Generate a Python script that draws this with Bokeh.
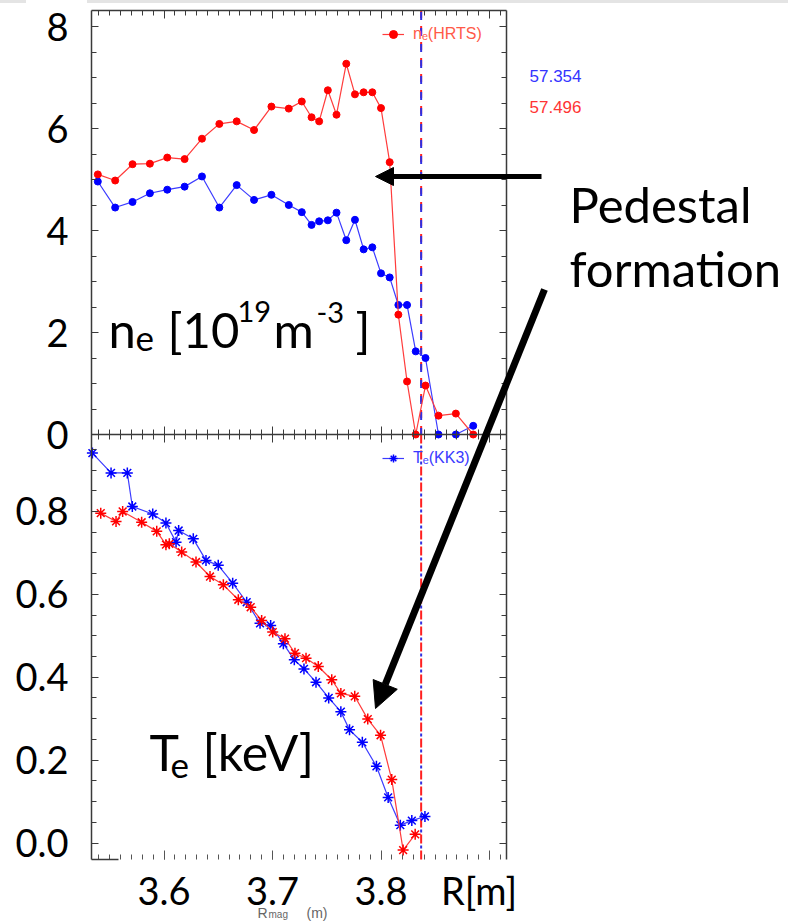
import numpy as np
from bokeh.plotting import figure
from bokeh.models import (Range1d, LinearAxis, FixedTicker, Label,
                          Arrow, NormalHead, Legend, LegendItem, Div, ColumnDataSource,
                          CustomJSTickFormatter)
from bokeh.layouts import column, row
from bokeh.embed import file_html
from bokeh.resources import INLINE

# ---------------- data ----------------
# HRTS density profiles, R [m] and n_e [1e19 m^-3]
ne_r = [3.539, 3.555, 3.571, 3.587, 3.603, 3.619, 3.635, 3.651, 3.667, 3.683,
        3.699, 3.715, 3.727, 3.736, 3.743, 3.751, 3.759, 3.768, 3.776, 3.784,
        3.792, 3.800, 3.808, 3.816, 3.824, 3.832, 3.841, 3.853, 3.869, 3.885]
ne_red = [5.10, 4.98, 5.30, 5.31, 5.43, 5.40, 5.80, 6.09, 6.14, 5.97,
          6.43, 6.39, 6.53, 6.22, 6.14, 6.75, 6.27, 7.27, 6.67, 6.71,
          6.71, 6.40, 5.34, 2.35, 1.04, 0.00, 0.96, 0.37, 0.41, 0.00]
ne_blue = [4.96, 4.45, 4.56, 4.73, 4.80, 4.86, 5.06, 4.45, 4.89, 4.60,
           4.70, 4.50, 4.36, 4.11, 4.18, 4.20, 4.35, 3.81, 4.21, 3.63,
           3.67, 3.16, 3.08, 2.54, 2.54, 1.63, 1.50, 0.00, 0.00, 0.17]

# KK3 temperature profiles, R [m] and T_e [keV]
te_blue_r = [3.5340, 3.5512, 3.5662, 3.5708, 3.5896, 3.6018, 3.6111, 3.6135, 3.6270, 3.6387,
             3.6500, 3.6633, 3.6762, 3.6885, 3.6983, 3.7100, 3.7201, 3.7290, 3.7401, 3.7518,
             3.7630, 3.7710, 3.7828, 3.7958, 3.8066, 3.8178, 3.8284, 3.8405]
te_blue = [0.941, 0.893, 0.893, 0.812, 0.794, 0.772, 0.726, 0.754, 0.734, 0.682,
           0.670, 0.627, 0.581, 0.530, 0.525, 0.481, 0.442, 0.420, 0.388, 0.350,
           0.317, 0.273, 0.243, 0.185, 0.110, 0.043, 0.054, 0.064]
te_red_r = [3.5417, 3.5558, 3.5619, 3.5794, 3.5933, 3.6018, 3.6049, 3.6163, 3.6295, 3.6424,
            3.6547, 3.6685, 3.6799, 3.6900, 3.7002, 3.7115, 3.7207, 3.7309, 3.7422, 3.7546,
            3.7630, 3.7758, 3.7878, 3.7996, 3.8099, 3.8204, 3.8315]
te_red = [0.796, 0.776, 0.800, 0.774, 0.752, 0.720, 0.722, 0.702, 0.678, 0.643,
          0.623, 0.587, 0.569, 0.537, 0.509, 0.493, 0.458, 0.446, 0.426, 0.394,
          0.361, 0.354, 0.299, 0.260, 0.153, -0.017, 0.021]

r_sep = 3.837                      # dashed vertical marker [m]
times = ["57.354", "57.496"]       # blue, red time stamps
x_tick_values = [3.6, 3.7, 3.8]
x_tick_labels = ["3.6", "3.7", "3.8"]
x_unit_label = "R[m]"
ne_tick_values = [0, 2, 4, 6, 8]
ne_tick_labels = ["0", "2", "4", "6", "8"]
te_tick_values = [0.0, 0.2, 0.4, 0.6, 0.8]
te_tick_labels = ["0.0", "0.2", "0.4", "0.6", "0.8"]
ne_legend = "n\u2091(HRTS)"
te_legend = "T\u2091(KK3)"

# ---------------- geometry (page pixels) ----------------
W, H, BAND = 788, 921, 3
XPX, TPX, NPX = 1085.0, 414.4, 51.0     # px per unit on each scale

# the plotting frame is the whole canvas; the two panels are drawn inside it
x_start = 3.6 - 163.5 / XPX
x_end = 3.6 + (W - 163.5) / XPX
te_start = -(H - 842.5) / TPX
te_end = (842.5 - BAND) / TPX
ne_start = -(H - 434.0) / NPX
ne_end = (434.0 - BAND) / NPX


def X(px):
    return x_start + px / XPX


def Y(py):
    return te_start + (H - py) / TPX


def te_of_ne(n):
    return te_start + (n - ne_start) * (te_end - te_start) / (ne_end - ne_start)


xL, xR = X(91), X(506)
yT, yB, ySep = Y(10), Y(859), Y(433.5)

p = figure(width=W, height=H - BAND, output_backend="svg", toolbar_location=None,
           x_range=Range1d(x_start, x_end), y_range=Range1d(te_start, te_end),
           x_axis_location=None, y_axis_location=None,
           min_border_left=0, min_border_right=0, min_border_top=0, min_border_bottom=0)
p.extra_y_ranges = {"ne": Range1d(ne_start, ne_end)}
p.outline_line_color = None
p.grid.visible = False
p.background_fill_color = "white"
p.border_fill_color = "white"

AX = "#3a3a3a"
blank = CustomJSTickFormatter(code="return ''")


def style(ax, tin, tmin, line=True, color=AX):
    ax.major_tick_in = tin
    ax.major_tick_out = 0
    ax.minor_tick_in = tmin
    ax.minor_tick_out = 0
    ax.axis_line_color = AX if line else None
    ax.axis_line_width = 1.5
    ax.major_tick_line_color = color
    ax.minor_tick_line_color = color


# ---- left / right panel edges (one axis serves both panels) ----
left_major = list(te_tick_values) + [te_of_ne(v) for v in ne_tick_values]
left_minor = [round(v, 3) for v in np.arange(0.0, 0.951, 0.05)] + \
             [te_of_ne(v) for v in np.arange(0.0, 8.01, 0.5)]
overrides = {float(v): s for v, s in zip(te_tick_values, te_tick_labels)}
overrides.update({float(te_of_ne(v)): s for v, s in zip(ne_tick_values, ne_tick_labels)})

left = LinearAxis(ticker=FixedTicker(ticks=left_major, minor_ticks=left_minor),
                  fixed_location=xL, bounds=(yB, yT))
style(left, 7, 5)
left.major_label_overrides = overrides
left.major_label_standoff = 23
left.major_label_text_font = "Lato"
left.major_label_text_font_size = "38px"
left.major_label_text_color = "black"
p.add_layout(left, "left")

right = LinearAxis(ticker=FixedTicker(ticks=left_major, minor_ticks=left_minor),
                   fixed_location=xR, bounds=(yB, yT), formatter=blank)
style(right, 7, 5)
right.major_label_standoff = 0
p.add_layout(right, "right")

# ---- top edge, separator edges, bottom edge ----
xt_minor = [round(v, 2) for v in np.arange(3.54, 3.915, 0.01)]
xt_major = [3.6, 3.7, 3.8, 3.9]

top = LinearAxis(ticker=FixedTicker(ticks=xt_major, minor_ticks=xt_minor),
                 fixed_location=yT, bounds=(xL, xR), formatter=blank)
style(top, 8, 5)
top.major_label_standoff = 0
p.add_layout(top, "above")

sep_up = LinearAxis(ticker=FixedTicker(ticks=xt_major, minor_ticks=xt_minor),
                    fixed_location=ySep, bounds=(xL, xR), formatter=blank)
style(sep_up, 8, 5)
sep_up.major_label_standoff = 0
p.add_layout(sep_up, "below")

sep_dn = LinearAxis(ticker=FixedTicker(ticks=xt_major, minor_ticks=xt_minor),
                    fixed_location=ySep, bounds=(xL, xR), formatter=blank)
style(sep_dn, 8, 5, line=False)
sep_dn.major_label_standoff = 0
p.add_layout(sep_dn, "above")

# bottom edge: ticks only (the axis line is hidden except a short stub at the left)
bot_ticks = LinearAxis(ticker=FixedTicker(ticks=xt_major, minor_ticks=xt_minor),
                       fixed_location=yB, bounds=(xL, xR), formatter=blank)
style(bot_ticks, 9, 5, line=False, color="#555555")
bot_ticks.major_label_standoff = 0
p.add_layout(bot_ticks, "below")

stub = LinearAxis(ticker=FixedTicker(ticks=[], minor_ticks=[]), fixed_location=yB,
                  bounds=(xL, X(118)), formatter=blank)
style(stub, 0, 0, line=True, color=None)
stub.major_label_standoff = 0
p.add_layout(stub, "below")

# bottom tick labels: 3.6 3.7 3.8 and the unit "R[m]"
unit_pos = X(478.5)
bot = LinearAxis(ticker=FixedTicker(ticks=list(x_tick_values) + [unit_pos], minor_ticks=[]),
                 fixed_location=yB)
style(bot, 0, 0, line=False, color=None)
bot.major_label_overrides = {**{float(v): s for v, s in zip(x_tick_values, x_tick_labels)},
                             float(unit_pos): x_unit_label}
bot.major_label_standoff = 7
bot.major_label_text_font = "Lato"
bot.major_label_text_font_size = "38px"
bot.major_label_text_color = "black"
p.add_layout(bot, "below")

# ---- dashed marker at the separatrix ----
p.segment(x0=[r_sep], y0=[ySep], x1=[r_sep], y1=[yT], line_color="#ff2020", line_width=2,
          line_dash="8 8")
p.segment(x0=[r_sep], y0=[ySep], x1=[r_sep], y1=[yT], line_color="#3030e0", line_width=2,
          line_dash="8 8", line_dash_offset=2)
p.segment(x0=[r_sep], y0=[yB], x1=[r_sep], y1=[ySep], line_color="#ff2020", line_width=2,
          line_dash="9 7")
p.segment(x0=[r_sep], y0=[yB], x1=[r_sep], y1=[ySep], line_color="#3030e0", line_width=2,
          line_dash="3 13", line_dash_offset=5)

# ---- density ----
ne_src = ColumnDataSource(dict(r=ne_r, red=ne_red, blue=ne_blue))
nb_l = p.line("r", "blue", source=ne_src, y_range_name="ne", line_color="#3c3cff", line_width=1.2)
nb_s = p.scatter("r", "blue", source=ne_src, y_range_name="ne", marker="circle", size=7,
                 color="#0000ff")
nr_l = p.line("r", "red", source=ne_src, y_range_name="ne", line_color="#ff3c3c", line_width=1.2)
nr_s = p.scatter("r", "red", source=ne_src, y_range_name="ne", marker="circle", size=7,
                 color="#ff0000")

# ---- temperature ----
tb = ColumnDataSource(dict(r=te_blue_r, t=te_blue))
tr = ColumnDataSource(dict(r=te_red_r, t=te_red))
tb_l = p.line("r", "t", source=tb, line_color="#3c3cff", line_width=1.2)
tb_s = p.scatter("r", "t", source=tb, marker="asterisk", size=11, line_color="#0000ff",
                 line_width=1.5)
tr_l = p.line("r", "t", source=tr, line_color="#ff3c3c", line_width=1.2)
tr_s = p.scatter("r", "t", source=tr, marker="asterisk", size=11, line_color="#ff0000",
                 line_width=1.5)

# ---- legends ----
def make_legend(label, rends, color, center_py):
    lg = Legend(items=[LegendItem(label=label, renderers=rends)],
                location=(382, H - (center_py + 10)),
                border_line_color=None, background_fill_alpha=0.0,
                glyph_width=22, glyph_height=20, label_height=20, label_standoff=9,
                label_text_font="Liberation Sans", label_text_font_size="16px",
                label_text_color=color, margin=0, padding=0, spacing=0)
    p.add_layout(lg)

make_legend(ne_legend, [nr_l, nr_s], "#ff5a48", 34)
make_legend(te_legend, [tb_l, tb_s], "#3a3aff", 458)

# ---- texts ----
def lab(text, px, py, size, color="black", font="Lato", baseline="alphabetic", **kw):
    lb = Label(x=X(px), y=Y(py), text=text, text_font=font, text_font_size=f"{size}px",
               text_color=color, text_align="left", text_baseline=baseline, **kw)
    p.add_layout(lb)
    return lb

lab(times[0], 529, 75, 17, "#3434ff", "Liberation Sans")
lab(times[1], 529, 106, 17, "#ff3434", "Liberation Sans")

lab("Pedestal", 569, 203, 49)
lab("formation", 569, 267, 49)

lab("n", 108, 328, 49)
lab("e", 135, 338, 35)
lab("[10", 167, 328, 49)
lab("19", 237, 311, 29)
lab("m", 273, 328, 49)
lab("-3", 316, 312, 29)
lab("]", 355, 328, 49)

lab("T", 149, 751, 50)
lab("e", 170, 765, 35)
lab("[keV]", 202, 751, 50)

# original (mostly hidden) axis title
lab("R", 257, 912, 14, "#666666", "Liberation Sans")
lab("mag", 268, 914, 10, "#666666", "Liberation Sans")
lab("(m)", 306, 912, 14, "#666666", "Liberation Sans")

# ---- arrows ----
p.add_layout(Arrow(end=NormalHead(size=18, fill_color="black", line_color="black"),
                   x_start=X(541), y_start=Y(176), x_end=X(375), y_end=Y(176),
                   line_width=5, line_color="black"))
p.add_layout(Arrow(end=NormalHead(size=26, fill_color="black", line_color="black"),
                   x_start=X(544), y_start=Y(289), x_end=X(375), y_end=Y(708),
                   line_width=7, line_color="black"))

# ---- thin grey band at the very top ----
band = row(Div(text="", width=26, height=BAND, margin=0, styles={"background-color": "#e4e4e4"}),
           Div(text="", width=61, height=BAND, margin=0),
           Div(text="", width=701, height=BAND, margin=0, styles={"background-color": "#e4e4e4"}),
           spacing=0)

layout = column(band, p, spacing=0)
open("out.html", "w").write(file_html(layout, INLINE))
